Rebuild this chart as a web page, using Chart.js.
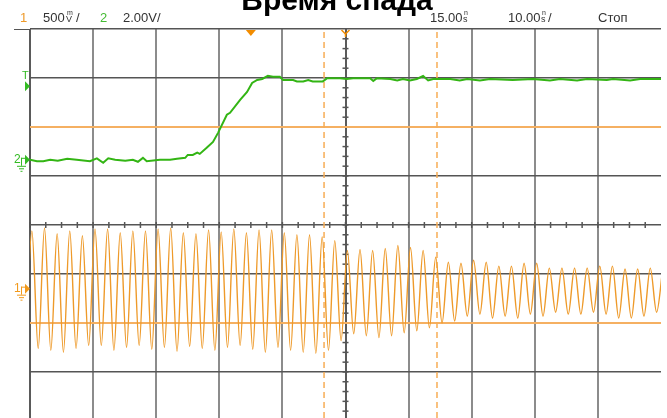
<!DOCTYPE html>
<html lang="ru">
<head>
<meta charset="UTF-8">
<title>Время спада</title>
<script src="https://cdn.jsdelivr.net/npm/chart.js"></script>
<style>
  html, body { margin: 0; padding: 0; background: #fff; overflow: hidden; }
  .scope { position: relative; width: 667px; height: 418px; }
</style>
</head>
<body>
<div class="scope"><canvas id="scopeChart"></canvas></div>
<script>
// horizontal: 10 ns/div, screen centre is 15 ns after the trigger
const timePerDiv = 10;
const horizDelay = 15;

// vertical: V/div and ground marker position (div from screen centre)
const ch1Scale = 0.5;
const ch2Scale = 2.0;
const ch1Offset = -1.3;
const ch2Offset = 1.33;
const trigLevel = 3.0;        // V, channel 2
const screenTop = 4;
const screenBottom = -3.94;   // last row is cut off in the screenshot

// cursors
const cursorTimes = [11.6, 29.5];   // ns
const cursorLevels = [2, -2];       // div

// channel 1 (orange): ~500 MHz sine, read as successive troughs / peaks (V)
const ch1Start = -35.7;     // ns, first (off-screen) trough
const ch1HalfPeriod = 1.0;  // ns
const ch1Troughs = [-0.60,
  -0.61, -0.63, -0.65, -0.61, -0.58, -0.58, -0.63, -0.60, -0.58, -0.62,
  -0.60, -0.64, -0.59, -0.61, -0.63, -0.60, -0.58, -0.62, -0.65, -0.60,
  -0.63, -0.65, -0.66, -0.63, -0.53, -0.46, -0.48, -0.50, -0.48, -0.45,
  -0.43, -0.40, -0.35, -0.33, -0.28, -0.26, -0.30, -0.28, -0.30, -0.26,
  -0.28, -0.24, -0.26, -0.26, -0.24, -0.26, -0.30, -0.30, -0.28, -0.24];
const ch1Peaks = [
  0.59, 0.62, 0.56, 0.59, 0.54, 0.61, 0.61, 0.57, 0.59, 0.59,
  0.61, 0.62, 0.57, 0.56, 0.60, 0.58, 0.61, 0.57, 0.60, 0.60,
  0.57, 0.55, 0.55, 0.53, 0.49, 0.39, 0.40, 0.39, 0.41, 0.44,
  0.42, 0.39, 0.32, 0.27, 0.26, 0.29, 0.27, 0.23, 0.23, 0.26,
  0.26, 0.21, 0.21, 0.21, 0.21, 0.23, 0.23, 0.20, 0.20, 0.21, 0.22];

// channel 2 (green): rising edge
const ch2Time = [-35.0, -33.9, -32.9, -31.8, -30.6, -29.1, -27.6, -25.5, -24.4, -23.4,
  -22.6, -21.5, -19.9, -18.7, -17.9, -17.1, -16.5, -14.4, -12.8, -11.7,
  -10.4, -10.0, -9.2, -8.5, -8.1, -7.0, -6.0, -5.2, -3.8, -3.3,
  -1.7, -0.6, 0.2, 1.0, 1.8, 2.7, 3.5, 4.6, 5.1, 6.7,
  7.3, 8.3, 9.1, 9.8, 11.4, 12.1, 14.1, 15.2, 16.2, 18.9,
  19.4, 20.0, 22.1, 23.2, 24.1, 25.2, 26.3, 27.3, 28.1, 28.9,
  31.6, 33.1, 34.3, 36.3, 37.9, 41.5, 44.7, 47.4, 49.0, 51.7,
  53.3, 56.4, 57.4, 60.1, 61.7, 65.0];
const ch2Volt = [0.00, -0.06, -0.06, 0.00, -0.04, 0.04, 0.00, -0.06, 0.06, -0.12,
  0.06, 0.00, -0.04, 0.00, -0.08, 0.08, -0.06, 0.00, 0.00, 0.04,
  0.08, 0.20, 0.20, 0.29, 0.24, 0.49, 0.73, 1.10, 1.84, 1.92,
  2.45, 2.77, 3.14, 3.26, 3.30, 3.43, 3.39, 3.39, 3.26, 3.26,
  3.20, 3.20, 3.26, 3.20, 3.20, 3.33, 3.33, 3.30, 3.33, 3.33,
  3.22, 3.33, 3.30, 3.24, 3.30, 3.24, 3.30, 3.42, 3.24, 3.30,
  3.30, 3.24, 3.30, 3.24, 3.30, 3.26, 3.30, 3.24, 3.30, 3.24,
  3.30, 3.26, 3.30, 3.24, 3.30, 3.30];

const ORANGE = '#ee9a2a';
const GREEN = '#33b514';

const tMin = horizDelay - 5 * timePerDiv;
const tMax = horizDelay + 5 * timePerDiv;

const ch1Points = [];
ch1Troughs.forEach((v, i) => {
  ch1Points.push({ x: ch1Start + 2 * i * ch1HalfPeriod, y: v });
  if (i < ch1Peaks.length) ch1Points.push({ x: ch1Start + (2 * i + 1) * ch1HalfPeriod, y: ch1Peaks[i] });
});
const ch2Points = ch2Time.map((t, i) => ({ x: t, y: ch2Volt[i] }));

const datasets = [
  { data: ch1Points, yAxisID: 'v1', borderColor: ORANGE, borderWidth: 1.4,
    pointRadius: 0, cubicInterpolationMode: 'monotone' },
  { data: ch2Points, yAxisID: 'v2', borderColor: GREEN, borderWidth: 2,
    pointRadius: 0, tension: 0 }
];
cursorTimes.forEach(t => datasets.push({
  data: [{ x: t, y: screenBottom }, { x: t, y: screenTop }], yAxisID: 'y',
  borderColor: '#f7ad55', borderWidth: 1.5, borderDash: [6, 4], pointRadius: 0
}));
cursorLevels.forEach(l => datasets.push({
  data: [{ x: tMin, y: l }, { x: tMax, y: l }], yAxisID: 'y',
  borderColor: '#f5b062', borderWidth: 2, pointRadius: 0
}));

function line(ctx, x1, y1, x2, y2) {
  ctx.beginPath(); ctx.moveTo(x1, y1); ctx.lineTo(x2, y2); ctx.stroke();
}
function tri(ctx, pts, color) {
  ctx.fillStyle = color;
  ctx.beginPath(); ctx.moveTo(pts[0], pts[1]); ctx.lineTo(pts[2], pts[3]); ctx.lineTo(pts[4], pts[5]);
  ctx.closePath(); ctx.fill();
}
function stacked(ctx, top, bottom, x, color) {
  ctx.fillStyle = color;
  ctx.font = '7px "Liberation Sans", Arial, sans-serif';
  ctx.fillText(top, x + 1, 15);
  ctx.font = '9px "Liberation Sans", Arial, sans-serif';
  ctx.fillText(bottom, x, 22);
}

const scopeDecor = {
  id: 'scopeDecor',
  beforeDatasetsDraw(chart) {
    const { ctx } = chart;
    const xs = chart.scales.x, ys = chart.scales.y;
    const xc = xs.getPixelForValue(horizDelay), y0 = ys.getPixelForValue(0);
    ctx.save();
    ctx.strokeStyle = '#555';
    ctx.lineWidth = 1.5;
    for (let t = tMin; t < tMax; t += timePerDiv / 4) {
      const x = xs.getPixelForValue(t);
      line(ctx, x, y0 - 3, x, y0 + 3);
    }
    for (let d = -4; d <= screenTop; d += 0.2) {
      const y = ys.getPixelForValue(d);
      line(ctx, xc - 3, y, xc + 3, y);
    }
    ctx.restore();
  },
  afterDraw(chart) {
    const { ctx, chartArea } = chart;
    const xs = chart.scales.x, ys = chart.scales.y, v2 = chart.scales.v2;
    ctx.save();
    // frame line under the header
    ctx.strokeStyle = '#555';
    ctx.lineWidth = 1;
    line(ctx, 14, chartArea.top + 0.5, chartArea.left, chartArea.top + 0.5);

    // title
    ctx.fillStyle = '#000';
    ctx.font = 'bold 30px "Liberation Sans", Arial, sans-serif';
    ctx.textAlign = 'center';
    ctx.fillText('Время спада', 337, 10);

    // header
    ctx.textAlign = 'left';
    const hf = '13px "Liberation Sans", Arial, sans-serif';
    ctx.font = hf;
    ctx.fillStyle = ORANGE; ctx.fillText('1', 20, 22);
    ctx.fillStyle = '#333'; ctx.fillText('500', 43, 22);
    stacked(ctx, 'm', 'V', 66, '#333');
    ctx.font = hf; ctx.fillText('/', 76, 22);
    ctx.fillStyle = '#44bb33'; ctx.fillText('2', 100, 22);
    ctx.fillStyle = '#333'; ctx.fillText('2.00V/', 123, 22);
    ctx.fillText('15.00', 430, 22);
    stacked(ctx, 'n', 's', 463, '#333');
    ctx.font = hf; ctx.fillText('10.00', 508, 22);
    stacked(ctx, 'n', 's', 541, '#333');
    ctx.font = hf; ctx.fillText('/', 548, 22);
    ctx.fillText('Стоп', 598, 22);

    // top markers: trigger position and horizontal delay
    const xt = xs.getPixelForValue(0), xc = xs.getPixelForValue(horizDelay);
    tri(ctx, [xt - 5, 30, xt + 5, 30, xt, 36], '#f28c00');
    ctx.strokeStyle = '#f28c00'; ctx.lineWidth = 1.5;
    ctx.beginPath(); ctx.moveTo(xc - 4, 30); ctx.lineTo(xc, 34); ctx.lineTo(xc + 4, 30); ctx.stroke();
    line(ctx, xc, 34, xc, 37);

    // left markers
    const L = chartArea.left;
    const tY = v2.getPixelForValue(trigLevel);
    ctx.font = '11px "Liberation Sans", Arial, sans-serif';
    ctx.fillStyle = '#33bb22';
    ctx.fillText('T', L - 8, tY - 7);
    tri(ctx, [L - 5, tY - 5, L - 5, tY + 5, L, tY], '#33bb22');

    const marker = (label, g, color) => {
      ctx.fillStyle = color; ctx.strokeStyle = color; ctx.lineWidth = 1;
      ctx.font = '12px "Liberation Sans", Arial, sans-serif';
      ctx.fillText(label, L - 16, g + 3);
      tri(ctx, [L - 5, g - 5, L - 5, g + 5, L, g], color);
      line(ctx, L - 9, g - 1.5, L - 5, g - 1.5);
      line(ctx, L - 8.5, g - 2, L - 8.5, g + 6);
      line(ctx, L - 13, g + 6.5, L - 4, g + 6.5);
      line(ctx, L - 11, g + 9, L - 6, g + 9);
      line(ctx, L - 9.5, g + 11.5, L - 7.5, g + 11.5);
    };
    marker('2', ys.getPixelForValue(ch2Offset), '#33bb22');
    marker('1', ys.getPixelForValue(ch1Offset), '#f29a1c');
    ctx.restore();
  }
};

new Chart(document.getElementById('scopeChart'), {
  type: 'line',
  data: { datasets },
  plugins: [scopeDecor],
  options: {
    responsive: true,
    maintainAspectRatio: false,
    animation: false,
    layout: { padding: { left: 30, top: 29, right: 6, bottom: 0 } },
    plugins: { legend: { display: false }, tooltip: { enabled: false } },
    scales: {
      x: {
        type: 'linear', min: tMin, max: tMax,
        afterBuildTicks: s => { s.ticks = Array.from({ length: 11 }, (_, i) => ({ value: tMin + i * timePerDiv })); },
        grid: {
          drawTicks: false,
          color: c => (c.tick.value === tMin || c.tick.value === horizDelay) ? '#5a5a5a' : '#8c8c8c',
          lineWidth: c => c.tick.value === tMax ? 0 : 2
        },
        ticks: { display: false },
        border: { display: false }
      },
      y: {
        type: 'linear', min: screenBottom, max: screenTop,
        afterBuildTicks: s => { s.ticks = [-3, -2, -1, 0, 1, 2, 3, 4].map(v => ({ value: v })); },
        grid: { drawTicks: false, color: '#555', lineWidth: 1.5 },
        ticks: { display: false },
        border: { display: false }
      },
      v1: {
        type: 'linear', display: false,
        min: (screenBottom - ch1Offset) * ch1Scale, max: (screenTop - ch1Offset) * ch1Scale
      },
      v2: {
        type: 'linear', display: false,
        min: (screenBottom - ch2Offset) * ch2Scale, max: (screenTop - ch2Offset) * ch2Scale
      }
    }
  }
});
</script>
</body>
</html>
